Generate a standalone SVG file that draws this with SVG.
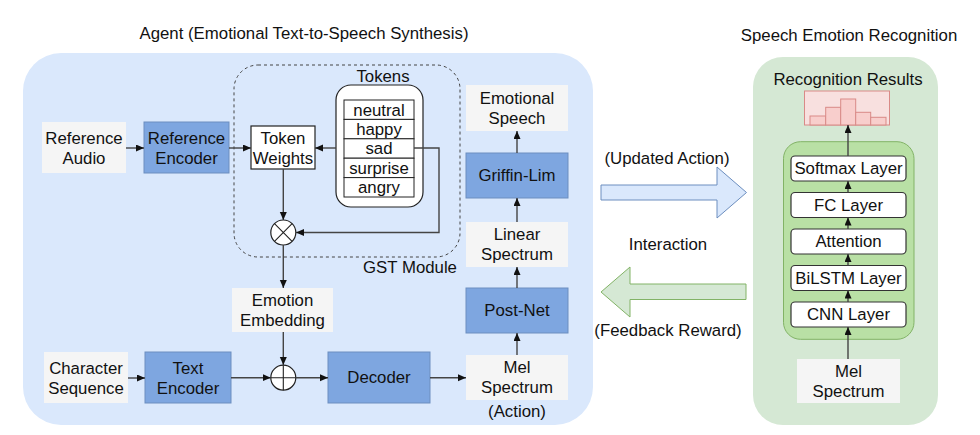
<svg xmlns="http://www.w3.org/2000/svg" width="980" height="435" viewBox="0 0 980 435">
<defs>
<style>
text{font-family:"Liberation Sans",Arial,sans-serif;font-size:16.8px;fill:#111;text-anchor:middle;dominant-baseline:central}
.blue{fill:#7EA6E0;stroke:#6C8EBF;stroke-width:1}
.gray{fill:#f5f5f5;stroke:none}
.white{fill:#fff;stroke:#222;stroke-width:1.2}
.layer{fill:#fff;stroke:#333;stroke-width:1.2}
.con{fill:none;stroke:#444;stroke-width:1.4;marker-end:url(#ah)}
</style>
<marker id="ah" markerUnits="userSpaceOnUse" markerWidth="9" markerHeight="8" refX="8" refY="3.5" orient="auto">
<path d="M0,0 L8,3.5 L0,7 Z" fill="#111"/>
</marker>
</defs>
<rect width="980" height="435" fill="#fff"/>

<g id="agent-container">
<rect x="23" y="53" width="570" height="372" rx="38" fill="#dae8fc"/>
<text x="304" y="33">Agent (Emotional Text-to-Speech Synthesis)</text>
</g>

<g id="gst-module">
<rect x="234" y="65" width="226" height="192" rx="24" fill="none" stroke="#444" stroke-width="1" stroke-dasharray="3,3"/>
<text x="410" y="267">GST Module</text>
</g>

<g id="ser-container">
<rect x="753" y="57" width="185" height="368" rx="30" fill="#d5e8d4"/>
<text x="849" y="35">Speech Emotion Recognition</text>
</g>

<g id="reference-audio">
<rect class="gray" x="42" y="122" width="84" height="51"/>
<text x="84" y="138">Reference</text><text x="84" y="158">Audio</text>
</g>
<g id="reference-encoder">
<rect class="blue" x="144" y="122" width="85" height="51"/>
<text x="186.5" y="138">Reference</text><text x="186.5" y="158">Encoder</text>
</g>
<g id="token-weights">
<rect class="white" x="251" y="126" width="64" height="43"/>
<text x="283" y="138">Token</text><text x="283" y="158">Weights</text>
</g>
<g id="tokens">
<rect x="336" y="85" width="87" height="122" rx="15" fill="#fff" stroke="#222" stroke-width="1.2"/>
<text x="383" y="76">Tokens</text>
<rect x="344" y="100" width="70" height="19.4" fill="#fff" stroke="#222" stroke-width="1"/>
<rect x="344" y="119.4" width="70" height="19.4" fill="#fff" stroke="#222" stroke-width="1"/>
<rect x="344" y="138.8" width="70" height="19.4" fill="#fff" stroke="#222" stroke-width="1"/>
<rect x="344" y="158.2" width="70" height="19.4" fill="#fff" stroke="#222" stroke-width="1"/>
<rect x="344" y="177.6" width="70" height="19.4" fill="#fff" stroke="#222" stroke-width="1"/>
<text x="379" y="110">neutral</text>
<text x="379" y="129.5">happy</text>
<text x="379" y="148">sad</text>
<text x="379" y="168">surprise</text>
<text x="379" y="187">angry</text>
</g>
<g id="otimes">
<circle cx="283.3" cy="232.5" r="12.5" fill="#fff" stroke="#222" stroke-width="1.2"/>
<path d="M274.5,223.7 L292.1,241.3 M292.1,223.7 L274.5,241.3" stroke="#222" stroke-width="1.1"/>
</g>
<g id="emotion-embedding">
<rect class="gray" x="232" y="288" width="101" height="44"/>
<text x="282.5" y="300">Emotion</text><text x="282.5" y="320">Embedding</text>
</g>
<g id="character-sequence">
<rect class="gray" x="44" y="352" width="84" height="51"/>
<text x="86" y="368">Character</text><text x="86" y="388">Sequence</text>
</g>
<g id="text-encoder">
<rect class="blue" x="145" y="352" width="86" height="51"/>
<text x="188" y="368">Text</text><text x="188" y="388">Encoder</text>
</g>
<g id="oplus">
<circle cx="283.3" cy="377.7" r="12.5" fill="#fff" stroke="#222" stroke-width="1.2"/>
<path d="M283.3,365.2 V390.2 M270.8,377.7 H295.8" stroke="#222" stroke-width="1.1"/>
</g>
<g id="decoder">
<rect class="blue" x="328" y="352" width="102" height="51"/>
<text x="379" y="377.5">Decoder</text>
</g>
<g id="mel-spectrum">
<rect class="gray" x="466" y="355" width="102" height="45"/>
<text x="517" y="367">Mel</text><text x="517" y="387">Spectrum</text>
<text x="517" y="411">(Action)</text>
</g>
<g id="post-net">
<rect class="blue" x="466" y="288" width="102" height="45"/>
<text x="517" y="310.5">Post-Net</text>
</g>
<g id="linear-spectrum">
<rect class="gray" x="466" y="222" width="102" height="45"/>
<text x="517" y="234">Linear</text><text x="517" y="254">Spectrum</text>
</g>
<g id="griffin-lim">
<rect class="blue" x="466" y="153" width="102" height="45"/>
<text x="517" y="175.5">Griffin-Lim</text>
</g>
<g id="emotional-speech">
<rect class="gray" x="466" y="85" width="102" height="46"/>
<text x="517" y="98">Emotional</text><text x="517" y="118">Speech</text>
</g>

<g id="updated-action-arrow">
<path d="M601,185 H717 V167 L746.5,192.5 L717,218 V200 H601 Z" fill="#dae8fc" stroke="#6C8EBF" stroke-width="1"/>
<text x="667" y="158">(Updated Action)</text>
</g>
<g id="interaction-label">
<text x="668" y="244">Interaction</text>
</g>
<g id="feedback-reward-arrow">
<path d="M746,284 H630 V267 L601,292 L630,317 V299.5 H746 Z" fill="#d5e8d4" stroke="#82B366" stroke-width="1"/>
<text x="668" y="330">(Feedback Reward)</text>
</g>

<g id="recognition-results">
<text x="848" y="79">Recognition Results</text>
<rect x="804.5" y="91" width="85" height="34" fill="#f8e0df" stroke="#d98a87" stroke-width="1"/>
<g fill="#f8cecc" stroke="#d98a87" stroke-width="1">
<rect x="810" y="116" width="15.7" height="9"/>
<rect x="825.7" y="107.3" width="15" height="17.7"/>
<rect x="840.7" y="99" width="15" height="26"/>
<rect x="855.7" y="112.3" width="15" height="12.7"/>
<rect x="870.7" y="117.3" width="15.3" height="7.7"/>
</g>
</g>
<g id="ser-model">
<rect x="783.5" y="141.7" width="130.5" height="197.6" rx="17" fill="#b9e0a5" stroke="#82B366" stroke-width="1"/>
</g>
<g id="softmax-layer">
<rect class="layer" x="791" y="156" width="115" height="25" rx="4"/>
<text x="848.5" y="168.5">Softmax Layer</text>
</g>
<g id="fc-layer">
<rect class="layer" x="791" y="192.5" width="115" height="25" rx="4"/>
<text x="848.5" y="205">FC Layer</text>
</g>
<g id="attention">
<rect class="layer" x="791" y="229" width="115" height="25" rx="4"/>
<text x="848.5" y="241.5">Attention</text>
</g>
<g id="bilstm-layer">
<rect class="layer" x="791" y="265.5" width="115" height="25" rx="4"/>
<text x="848.5" y="278">BiLSTM Layer</text>
</g>
<g id="cnn-layer">
<rect class="layer" x="791" y="302" width="115" height="25" rx="4"/>
<text x="848.5" y="314.5">CNN Layer</text>
</g>
<g id="ser-mel-spectrum">
<rect class="gray" x="797" y="359" width="103" height="44"/>
<text x="848.5" y="371">Mel</text><text x="848.5" y="391">Spectrum</text>
</g>

<g id="connectors">
<path class="con" d="M126,148 H144"/>
<path class="con" d="M229,148 H251"/>
<path class="con" d="M336,148 H315"/>
<path class="con" d="M414,148 H439 V232.5 H296"/>
<path class="con" d="M283.3,169 V220"/>
<path class="con" d="M283.3,245 V288"/>
<path class="con" d="M283.3,332 V365"/>
<path class="con" d="M128,378 H145"/>
<path class="con" d="M231,377.7 H270.8"/>
<path class="con" d="M295.8,377.7 H328"/>
<path class="con" d="M430,377.7 H466"/>
<path class="con" d="M517,355 V333"/>
<path class="con" d="M517,288 V267"/>
<path class="con" d="M517,222 V198"/>
<path class="con" d="M517,153 V131"/>
<path class="con" d="M848,359 V327"/>
<path class="con" d="M848,302 V290.5"/>
<path class="con" d="M848,265.5 V254"/>
<path class="con" d="M848,229 V217.5"/>
<path class="con" d="M848,192.5 V181"/>
<path class="con" d="M848,156 V125"/>
</g>
</svg>
